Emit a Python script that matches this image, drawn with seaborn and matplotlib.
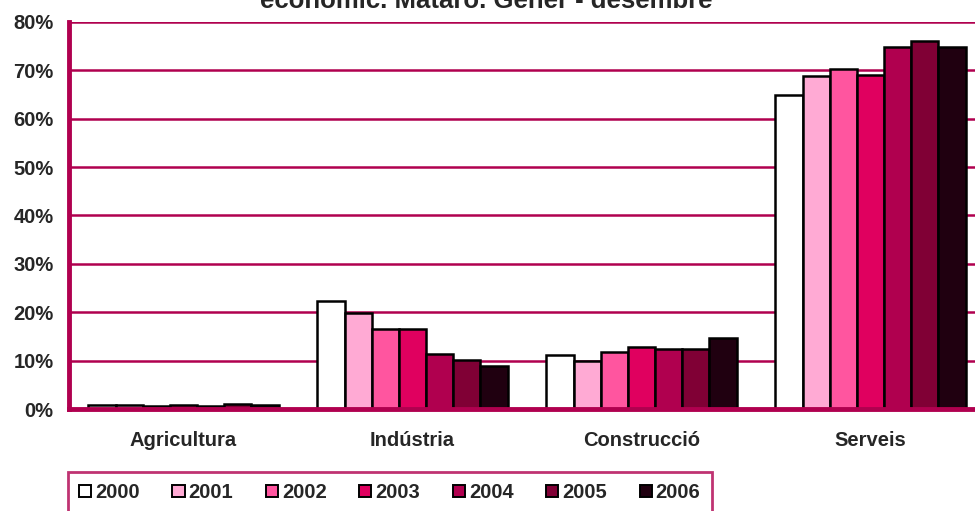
import matplotlib
matplotlib.use("Agg")
import matplotlib.pyplot as plt
import seaborn as sns
import pandas as pd
from matplotlib.patches import Patch
from matplotlib.ticker import FixedLocator

categories = ["Agricultura", "Indústria", "Construcció", "Serveis"]
years = ["2000", "2001", "2002", "2003", "2004", "2005", "2006"]
v2000 = [0.9, 22.4, 11.1, 65.0]
v2001 = [0.8, 19.8, 9.9, 68.9]
v2002 = [0.7, 16.6, 11.8, 70.2]
v2003 = [0.9, 16.5, 12.8, 69.1]
v2004 = [0.7, 11.4, 12.5, 74.9]
v2005 = [1.0, 10.1, 12.3, 76.0]
v2006 = [0.8, 8.9, 14.7, 74.9]
colors = ["#FFFFFF", "#FFAAD4", "#FF559F", "#E0005F", "#B0004F", "#800035", "#200010"]
yticks = [0, 10, 20, 30, 40, 50, 60, 70, 80]
title_lines = ["Evolució de l'atur registrat per sector d'activitat",
               "econòmic. Mataró. Gener - desembre"]

series = [v2000, v2001, v2002, v2003, v2004, v2005, v2006]
rows = []
for y, vals in zip(years, series):
    for c, v in zip(categories, vals):
        rows.append({"cat": c, "year": y, "val": v})
df = pd.DataFrame(rows)

sns.set_theme(style="white")
plt.rcParams["font.family"] = ["Liberation Sans", "DejaVu Sans"]
crim = "#B0004F"
fs = 14.5

fig = plt.figure(figsize=(9.75, 5.11), dpi=100)
ax = fig.add_axes([69 / 975, 102 / 511, 916 / 975, 387 / 511])
ax.set_axisbelow(True)
sns.barplot(data=df, x="cat", y="val", hue="year", order=categories, hue_order=years,
            palette=colors, width=0.83, edgecolor="black", linewidth=1.8,
            saturation=1, legend=False, ax=ax)

ax.set_ylim(0, 80)
ax.set_xlim(-0.5, 3.5)
ax.set_yticks(yticks)
ax.set_yticklabels([f"{t}%" for t in yticks], fontsize=fs, fontweight="bold")
ax.yaxis.grid(True, color=crim, linewidth=1.8)
ax.xaxis.grid(False)
ax.set_xlabel("")
ax.set_ylabel("")
ax.set_xticks(range(len(categories)))
ax.set_xticklabels(categories, fontsize=fs, fontweight="bold")
ax.tick_params(axis="x", which="major", length=0, pad=16)
ax.xaxis.set_minor_locator(FixedLocator([-0.5, 0.5, 1.5, 2.5, 3.5]))
ax.tick_params(axis="x", which="minor", length=6, width=3, color=crim, direction="out")
ax.tick_params(axis="y", length=6, width=3, color=crim, direction="out", pad=5)
for s in ["top", "right"]:
    ax.spines[s].set_visible(False)
for s in ["left", "bottom"]:
    ax.spines[s].set_color(crim)
    ax.spines[s].set_linewidth(3.5)

fig.text(486 / 975, 1 - 8 / 511, title_lines[1], ha="center", va="baseline", fontsize=18.5,
         fontweight="bold")
fig.text(486 / 975, 1 + 16 / 511, title_lines[0], ha="center", va="baseline", fontsize=18.5,
         fontweight="bold")

handles = [Patch(facecolor=c, edgecolor="black", linewidth=1.4) for c in colors]
leg = fig.legend(handles, years, loc="upper left", bbox_to_anchor=(68 / 975, 1 - 472 / 511),
                 ncol=7, frameon=True, prop={"weight": "bold", "size": fs},
                 handlelength=0.6, handleheight=0.6, handletextpad=0.2,
                 columnspacing=1.62, borderpad=0.55, fancybox=False, borderaxespad=0)
leg.get_frame().set_edgecolor(crim)
leg.get_frame().set_linewidth(2)

fig.savefig("out.png", dpi=100)
